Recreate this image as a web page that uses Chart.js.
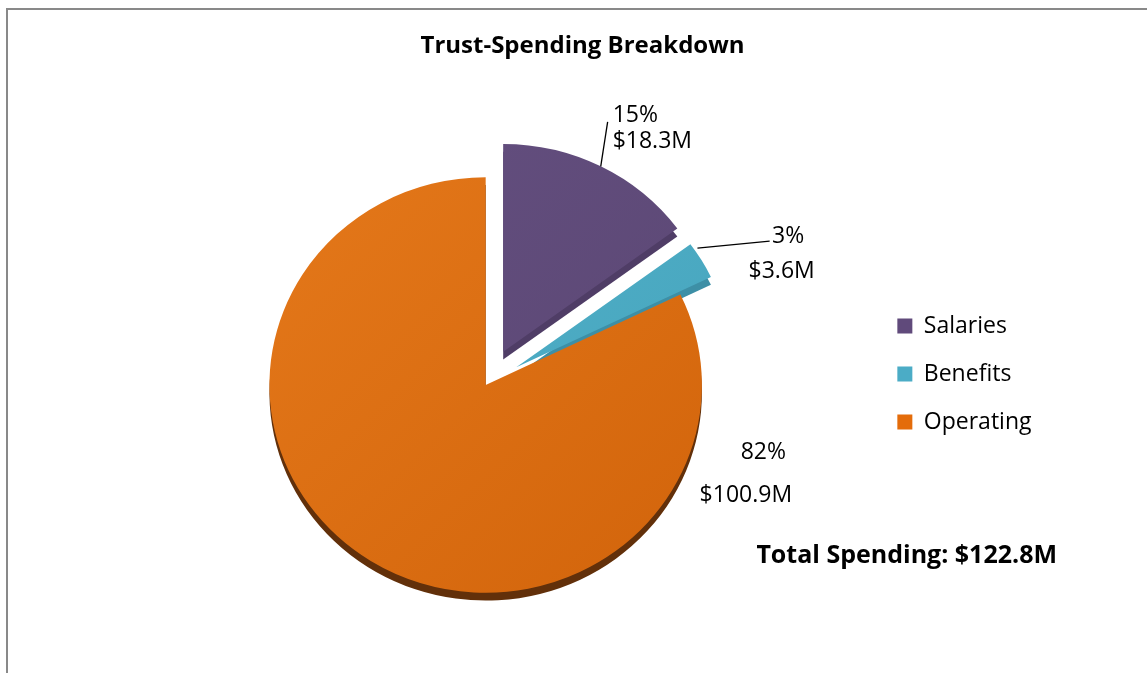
<!DOCTYPE html>
<html>
<head>
<meta charset="utf-8">
<title>Trust-Spending Breakdown</title>
<script src="https://cdn.jsdelivr.net/npm/chart.js@4.4.1/dist/chart.umd.min.js"></script>
<style>
  html, body { margin: 0; padding: 0; background: #fff; }
  #wrap { position: relative; width: 1147px; height: 673px; overflow: hidden; }
  #frame { position: absolute; left: 6px; top: 8px; right: -4px; bottom: -4px;
           border-left: 2px solid #898989; border-top: 2px solid #898989; }
  #canvas { position: absolute; left: 0; top: 0; }
</style>
</head>
<body>
<div id="wrap">
  <div id="frame"></div>
  <canvas id="canvas" width="1147" height="673"></canvas>
</div>
<script>
// spending per category, in $M
var categories = ['Salaries', 'Benefits', 'Operating'];
var spending = [18.3, 3.6, 100.9];

var chartTitle = 'Trust-Spending Breakdown';
var totalPrefix = 'Total Spending: ';

// colours: legend swatches, slice faces (light -> dark) and the 3d side walls
var legendColors = ['#604A7B', '#4BACC6', '#E46C0A'];
var faceLight = ['#644F80', '#52B3CC', '#E4781A'];
var faceDark = ['#5A4672', '#45A2BA', '#D2640B'];
var sideColors = ['#4F3D66', '#3D8FA6', '#62300A'];

var explode = [38, 35, 0];   // px each slice is pulled out
var depth = 8;               // thickness of the pie
var tiltX = 1.02, tiltY = 0.98;  // slight perspective squash

// where the value labels sit, relative to a point on the slice rim
var labelLayout = [
    { at: 0.5,  align: 'left',   pct: [11.9, -44.4], amt: [11.9, -18.4], leader: [0, 0, 6.9, -44.4] },
    { at: 0.5,  align: 'center', pct: [86.7, -17], amt: [80.2, 18],  leader: [-4, -12, 68.2, -19] },
    { at: 0.12, align: 'center', pct: [64.5, 39.1], amt: [47, 82.1], leader: null }
];

var total = spending.reduce(function(a, b) { return a + b; }, 0);

Chart.defaults.font.family = "'Open Sans', sans-serif";
Chart.defaults.color = '#000';

function faceGradient(context) {
    var chart = context.chart;
    var area = chart.chartArea;
    var i = context.dataIndex;
    if (!area || i === undefined) return legendColors[i] || '#888';
    var cx = (area.left + area.right) / 2;
    var cy = (area.top + area.bottom) / 2;
    var r = 212;
    var g = chart.ctx.createLinearGradient(cx - r, cy - r, cx + r, cy + r);
    g.addColorStop(0, faceLight[i]);
    g.addColorStop(1, faceDark[i]);
    return g;
}

function explodeShift(arc, i) {
    var mid = (arc.startAngle + arc.endAngle) / 2;
    return { x: Math.cos(mid) * explode[i], y: Math.sin(mid) * explode[i] };
}

function applyTilt(ctx, arc) {
    ctx.translate(arc.x, arc.y);
    ctx.scale(tiltX, tiltY);
    ctx.translate(-arc.x, -arc.y);
}

// draws the slices pulled apart, with a darker wall underneath
var pie3d = {
    id: 'pie3d',
    beforeDatasetDraw: function(chart, args) {
        var ctx = chart.ctx;
        var arcs = args.meta.data;
        arcs.forEach(function(arc, i) {
            var s = explodeShift(arc, i);
            ctx.save();
            applyTilt(ctx, arc);
            ctx.translate(s.x, s.y + depth);
            ctx.beginPath();
            ctx.moveTo(arc.x, arc.y);
            ctx.arc(arc.x, arc.y, arc.outerRadius, arc.startAngle, arc.endAngle);
            ctx.closePath();
            ctx.fillStyle = sideColors[i];
            ctx.fill();
            ctx.restore();
        });
        arcs.forEach(function(arc, i) {
            var s = explodeShift(arc, i);
            ctx.save();
            applyTilt(ctx, arc);
            ctx.translate(s.x, s.y);
            arc.draw(ctx);
            ctx.restore();
        });
        return false;
    }
};

// percent + dollar labels, leader lines, title and total
var pieText = {
    id: 'pieText',
    afterDatasetsDraw: function(chart) {
        var ctx = chart.ctx;
        var arcs = chart.getDatasetMeta(0).data;
        ctx.save();
        ctx.fillStyle = '#000';
        ctx.strokeStyle = '#000';
        ctx.lineWidth = 1.3;
        ctx.font = "23px 'Open Sans', sans-serif";
        ctx.textBaseline = 'alphabetic';
        arcs.forEach(function(arc, i) {
            var lay = labelLayout[i];
            var s = explodeShift(arc, i);
            var a = arc.startAngle + (arc.endAngle - arc.startAngle) * lay.at;
            var px = arc.x + (s.x + Math.cos(a) * arc.outerRadius) * tiltX;
            var py = arc.y + (s.y + Math.sin(a) * arc.outerRadius) * tiltY;
            var pct = Math.round(spending[i] / total * 100) + '%';
            var amt = '$' + spending[i].toFixed(1) + 'M';
            if (lay.leader) {
                ctx.beginPath();
                ctx.moveTo(px + lay.leader[0], py + lay.leader[1]);
                ctx.lineTo(px + lay.leader[2], py + lay.leader[3]);
                ctx.stroke();
            }
            ctx.textAlign = lay.align;
            ctx.fillText(pct, px + lay.pct[0], py + lay.pct[1]);
            ctx.fillText(amt, px + lay.amt[0], py + lay.amt[1]);
        });
        ctx.restore();
    },
    afterDraw: function(chart) {
        var ctx = chart.ctx;
        ctx.save();
        ctx.fillStyle = '#000';
        ctx.textBaseline = 'alphabetic';
        ctx.font = "bold 24px 'Open Sans', sans-serif";
        ctx.textAlign = 'center';
        ctx.fillText(chartTitle, 582.5, 53);
        ctx.font = "bold 25px 'Open Sans', sans-serif";
        ctx.textAlign = 'right';
        ctx.fillText(totalPrefix + '$' + total.toFixed(1) + 'M', 1057, 563);
        ctx.restore();
    }
};

var ctx = document.getElementById('canvas');

var pieChart = new Chart(ctx, {
    type: 'pie',
    data: {
        labels: categories,
        datasets: [{
            data: spending,
            backgroundColor: faceGradient,
            borderWidth: 0
        }]
    },
    options: {
        responsive: false,
        animation: false,
        events: [],
        radius: 212,
        layout: {
            padding: { left: 99, right: 105.5, top: 289.5, bottom: 192.5 }
        },
        plugins: {
            tooltip: { enabled: false },
            title: { display: false },
            legend: {
                position: 'right',
                align: 'start',
                labels: {
                    boxWidth: 15,
                    boxHeight: 15,
                    padding: 25,
                    color: '#000',
                    font: { size: 23 },
                    generateLabels: function(chart) {
                        var items = Chart.overrides.doughnut.plugins.legend.labels.generateLabels(chart);
                        items.forEach(function(item, i) {
                            item.fillStyle = legendColors[i];
                            item.strokeStyle = legendColors[i];
                            item.lineWidth = 0;
                        });
                        return items;
                    }
                }
            }
        }
    },
    plugins: [pie3d, pieText]
});
</script>
</body>
</html>
